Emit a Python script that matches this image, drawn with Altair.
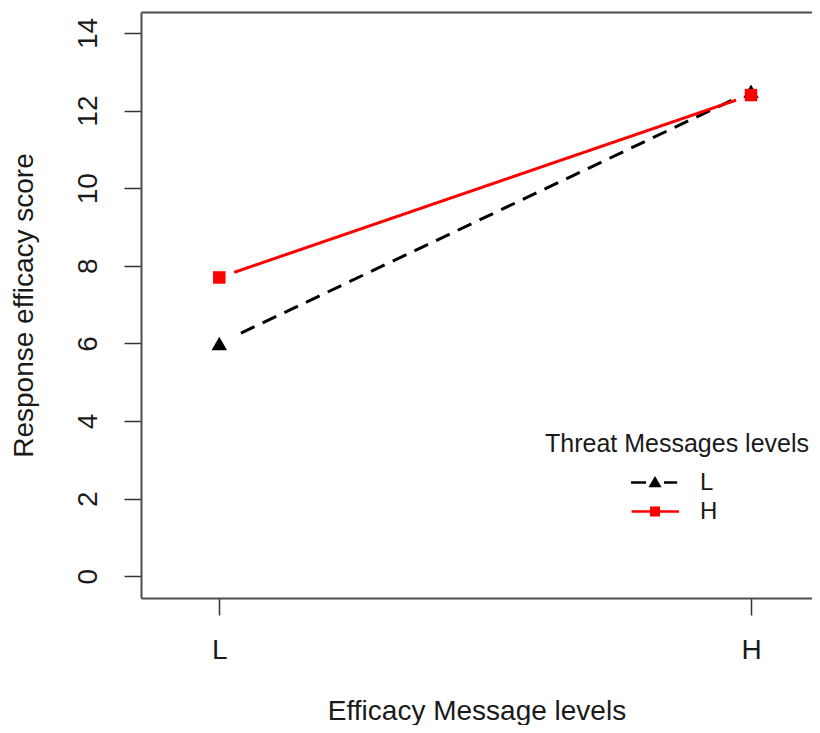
import altair as alt
import pandas as pd

# ---- data ----
efficacy_levels = ["L", "H"]          # x categories
threat_levels = ["L", "H"]            # series
score_threat_L = [6.0, 12.5]          # black dashed, triangles
score_threat_H = [7.7, 12.4]          # red solid, squares

series_colors = ["#000000", "#ff0000"]
series_dash = [[15, 9], [1, 0]]
legend_shapes = [
    "M-2,-0.1H-0.75V0.1H-2Z M0,-0.55L0.55,0.4H-0.55Z M0.75,-0.1H1.85V0.1H0.75Z",
    "M-1.95,-0.1H2V0.1H-1.95Z M-0.42,-0.42H0.42V0.42H-0.42Z",
]
y_ticks = [0, 2, 4, 6, 8, 10, 12, 14]

rows = []
for t, vals in zip(threat_levels, [score_threat_L, score_threat_H]):
    for e, v in zip(efficacy_levels, vals):
        rows.append({"efficacy": e, "threat": t, "score": v})
df = pd.DataFrame(rows)

FONT = "Liberation Sans"
TXT = "#1a1a1a"
BOX = "#4d4d4d"

x_scale = alt.Scale(type="point", domain=efficacy_levels, padding=0.131, align=0.562)

x_axis_bottom = alt.Axis(
    title="Efficacy Message levels",
    labelAngle=0,
    labelFontSize=28,
    labelColor=TXT,
    labelPadding=21,
    labelBaseline="top",
    tickSize=17,
    tickColor="#333333",
    tickWidth=1.5,
    domain=True,
    domainColor=BOX,
    domainWidth=2,
    grid=False,
    titleFontSize=28,
    titleFontWeight="normal",
    titleColor=TXT,
    titlePadding=33,
)
x_axis_top = alt.Axis(
    orient="top", title=None, labels=False, ticks=False, grid=False,
    domain=True, domainColor=BOX, domainWidth=2,
)

y_enc = alt.Y(
    "score:Q",
    scale=alt.Scale(domain=[-0.56, 14.54], nice=False, zero=False),
    axis=alt.Axis(
        title="Response efficacy score",
        values=y_ticks,
        labelAngle=270,
        labelAlign="center",
        labelBaseline="alphabetic",
        labelFontSize=28,
        labelColor=TXT,
        labelPadding=28,
        tickSize=17,
        tickColor="#333333",
        tickWidth=1.5,
        domain=True,
        domainColor=BOX,
        domainWidth=2,
        grid=False,
        titleFontSize=28,
        titleFontWeight="normal",
        titleColor=TXT,
        titleBaseline="alphabetic",
        titlePadding=42,
    ),
)


def xe(axis):
    return alt.X("efficacy:N", sort=efficacy_levels, scale=x_scale, axis=axis)


color_scale = alt.Scale(domain=threat_levels, range=series_colors)
base = alt.Chart(df)

legend_layer = base.transform_filter("false").mark_point(filled=True, opacity=1).encode(
    x=xe(x_axis_bottom),
    y=y_enc,
    color=alt.Color(
        "threat:N",
        scale=color_scale,
        legend=alt.Legend(
            title="Threat Messages levels",
            orient="none",
            legendX=404,
            legendY=420,
            padding=0,
            titleFontSize=25,
            titleFontWeight="normal",
            titleColor=TXT,
            titleFont=FONT,
            titleLimit=600,
            titlePadding=13.5,
            labelFontSize=24,
            labelColor=TXT,
            labelFont=FONT,
            symbolSize=576,
            symbolOffset=98,
            labelOffset=33,
            rowPadding=5,
            symbolStrokeWidth=0,
        ),
    ),
    shape=alt.Shape("threat:N", scale=alt.Scale(domain=threat_levels, range=legend_shapes)),
)

lines = base.mark_line(strokeWidth=3).encode(
    x=xe(None),
    y=y_enc,
    color=alt.Color("threat:N", scale=color_scale, legend=None),
    strokeDash=alt.StrokeDash("threat:N", scale=alt.Scale(domain=threat_levels, range=series_dash), legend=None),
)

halos = base.mark_point(filled=True, shape="circle", size=1000, color="white", opacity=1).encode(
    x=xe(None), y=y_enc
)

pts_L = base.transform_filter(alt.datum.threat == "L").mark_point(
    filled=True, shape="triangle-up", size=240, opacity=1
).encode(x=xe(None), y=y_enc, color=alt.Color("threat:N", scale=color_scale, legend=None))

pts_H = base.transform_filter(alt.datum.threat == "H").mark_point(
    filled=True, shape="square", size=156, opacity=1
).encode(x=xe(x_axis_top), y=y_enc, color=alt.Color("threat:N", scale=color_scale, legend=None))

chart = (
    alt.layer(legend_layer, lines, halos, pts_L, pts_H)
    .resolve_axis(x="independent")
    .properties(
        width=671,
        height=586,
        autosize=alt.AutoSizeParams(type="none"),
        padding={"left": 133, "top": 4, "right": 0, "bottom": 127},
        background="white",
    )
    .configure(font=FONT)
    .configure_view(strokeWidth=0)
)

chart.save("out.html", embed_options={"renderer": "svg", "actions": False})
